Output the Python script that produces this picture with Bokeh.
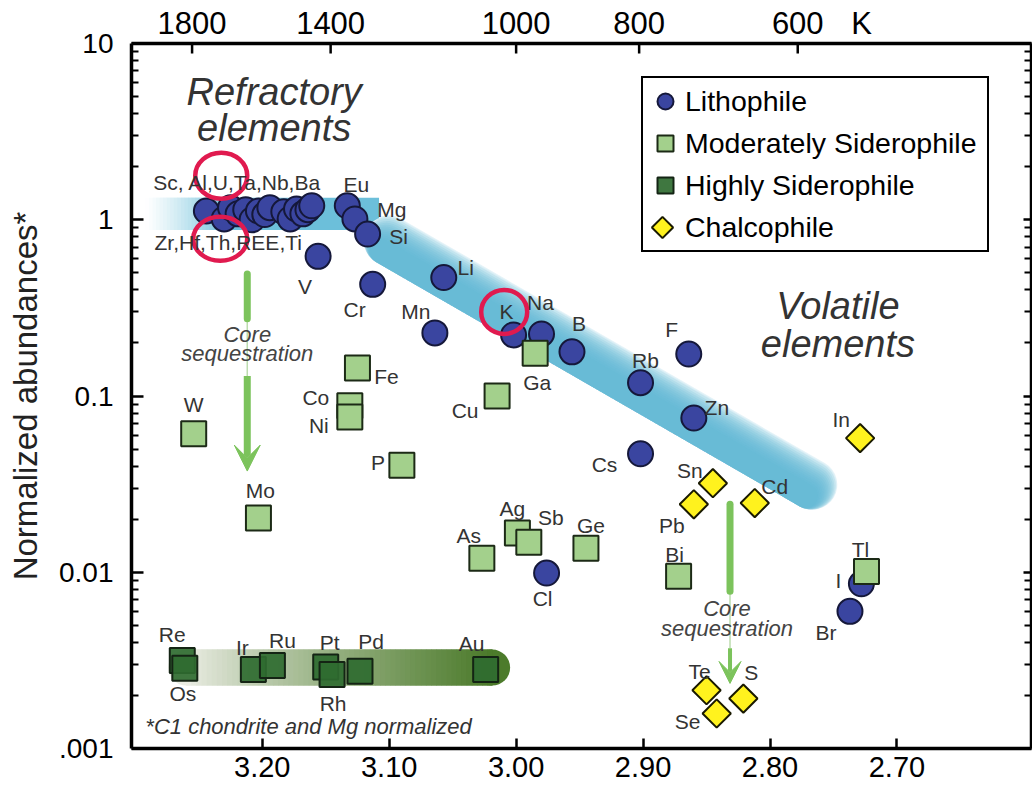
import numpy as np
from bokeh.plotting import figure
from bokeh.models import (Range1d, LinearAxis, LogAxis, FixedTicker, CustomJSTickFormatter,
                          Label, Legend, LegendItem, Arrow, VeeHead, ColumnDataSource)
from bokeh.core.properties import value
from bokeh.embed import file_html
from bokeh.resources import INLINE

FONT = "Liberation Sans"

# ---------------------------------------------------------------------------
# Data: x = log10 of 50% condensation temperature (K),
#       y = CI-chondrite and Mg normalized abundance
# ---------------------------------------------------------------------------
litho_names = ["Sc", "Al", "U", "Ta", "Nb", "Ba", "Zr", "Hf", "Th", "La", "Ce", "Nd", "Sm", "Ti", "Ca",
               "Eu", "Mg", "Si", "V", "Cr", "Li", "Mn", "K", "Na", "B", "Rb", "F", "Zn", "Cs",
               "Cl", "I", "Br"]
litho_x = [3.244, 3.230, 3.225, 3.219, 3.213, 3.208, 3.203, 3.198, 3.194, 3.183, 3.178, 3.173,
           3.168, 3.164, 3.161,
           3.133, 3.127, 3.117, 3.156, 3.113, 3.057, 3.064, 3.002, 2.980, 2.956, 2.902, 2.864,
           2.860, 2.902, 2.976, 2.728, 2.737]
litho_y = [1.12, 1.01, 1.17, 1.08, 1.14, 1.00, 1.12, 1.07, 1.17, 1.11, 1.01, 1.15, 1.08, 1.14,
           1.20,
           1.20, 1.01, 0.83, 0.62, 0.43, 0.47, 0.228, 0.222, 0.225, 0.178, 0.119, 0.173,
           0.075, 0.047, 0.0099, 0.0086, 0.0060]

modsid_names = ["Fe", "Co", "Ni", "W", "Mo", "P", "Cu", "Ga", "As", "Ag", "Sb", "Ge", "Bi", "Tl"]
modsid_x = [3.125, 3.131, 3.131, 3.254, 3.203, 3.090, 3.015, 2.985, 3.027, 2.999, 2.990, 2.945,
            2.872, 2.724]
modsid_y = [0.144, 0.088, 0.076, 0.061, 0.0203, 0.0405, 0.100, 0.175, 0.0120, 0.0167, 0.0148,
            0.0137, 0.0095, 0.0101]

highsid_names = ["Re", "Os", "Ir", "Ru", "Pt", "Rh", "Pd", "Au"]
highsid_x = [3.263, 3.261, 3.207, 3.192, 3.150, 3.145, 3.123, 3.024]
highsid_y = [0.00316, 0.00285, 0.00281, 0.00296, 0.00290, 0.00263, 0.00274, 0.00281]

chalco_names = ["In", "Sn", "Pb", "Cd", "Te", "S", "Se"]
chalco_x = [2.729, 2.845, 2.860, 2.812, 2.850, 2.821, 2.842]
chalco_y = [0.0577, 0.032, 0.0243, 0.0247, 0.00214, 0.00192, 0.00158]

# axis ticks
x_tick_values = [3.20, 3.10, 3.00, 2.90, 2.80, 2.70]
x_tick_labels = ["3.20", "3.10", "3.00", "2.90", "2.80", "2.70"]
y_tick_values = [0.001, 0.01, 0.1, 1, 10]
y_tick_labels = [".001", "0.01", "0.1", "1", "10"]
top_temps = [1800, 1400, 1000, 800, 600]
top_labels = ["1800", "1400", "1000", "800", "600"]
top_unit_label = "K"

# label placement (screen px offsets from the marker centre)
LABEL_OFFSETS = {
    "Eu": (9, -21), "Mg": (37, -9), "Si": (31, 2), "V": (-13, 30), "Cr": (-18, 25),
    "Li": (22, -10), "Mn": (-19, -21), "K": (-7, -23), "Na": (-1, -31), "B": (7, -28),
    "Rb": (5, -22), "F": (-17, -25), "Zn": (23, -11), "Cs": (-36, 11), "Cl": (-4, 25),
    "I": (-23, -3), "Br": (-24, 21),
    "Fe": (29, 8), "Co": (-34, -8), "Ni": (-31, 8), "W": (0, -29), "Mo": (2, -28),
    "P": (-24, -3), "Cu": (-32, 14), "Ga": (2, 29), "As": (-13, -23), "Ag": (-5, -24),
    "Sb": (22, -25), "Ge": (5, -23), "Bi": (-4, -22), "Tl": (-6, -22),
    "Re": (-10, -26), "Os": (-2, 25), "Ir": (-11, -22), "Ru": (10, -25), "Pt": (4, -25),
    "Rh": (1, 29), "Pd": (11, -30), "Au": (-14, -26),
    "In": (-19, -19), "Sn": (-23, -13), "Pb": (-22, 21), "Cd": (20, -17), "Te": (-7, -19),
    "S": (8, -26), "Se": (-29, 8),
}

# ---------------------------------------------------------------------------
# Figure geometry
# ---------------------------------------------------------------------------
X_START, X_END = 3.303, 2.594
Y_START, Y_END = 1e-3, 10.0
FRAME_LEFT, FRAME_TOP = 131, 43
FRAME_W, FRAME_H = 900, 705
PX_PER_X = FRAME_W / (X_START - X_END)
PX_PER_DEC = FRAME_H / np.log10(Y_END / Y_START)


def shift(x, y, dx, dy):
    """Move a data point by (dx, dy) screen pixels (dy positive downwards)."""
    return x - dx / PX_PER_X, y * 10 ** (-dy / PX_PER_DEC)


def from_screen(sx, sy):
    """Data coordinates of a canvas pixel position."""
    return X_START - (sx - FRAME_LEFT) / PX_PER_X, Y_END * 10 ** (-(sy - FRAME_TOP) / PX_PER_DEC)


def blend(c0, c1, t):
    a = np.array([int(c0[i:i + 2], 16) for i in (1, 3, 5)], float)
    b = np.array([int(c1[i:i + 2], 16) for i in (1, 3, 5)], float)
    c = a + (b - a) * t
    return "#%02x%02x%02x" % tuple(int(round(v)) for v in c)


p = figure(width=1032, height=790, x_range=Range1d(X_START, X_END),
           y_range=Range1d(Y_START, Y_END), y_axis_type="log",
           output_backend="svg", toolbar_location=None,
           min_border_left=FRAME_LEFT, min_border_right=1, min_border_top=FRAME_TOP,
           min_border_bottom=42)
p.xgrid.visible = False
p.ygrid.visible = False
p.outline_line_color = None
p.background_fill_color = "white"
p.border_fill_color = "white"

# ---------------------------------------------------------------------------
# Trend bands
# ---------------------------------------------------------------------------
BAND_BLUE = "#6cbfda"
# refractory plateau (fades in from the left)
hb_left, hb_right = 3.292, 3.108
hb_top, hb_bottom = 1.334, 0.874
n_fade = 24
fade_edges = np.linspace(hb_left, 3.225, n_fade + 1)
fade_cols = [blend("#ffffff", BAND_BLUE, ((i + 0.5) / n_fade) ** 1.2) for i in range(n_fade)]
p.quad(left=fade_edges[:-1], right=fade_edges[1:] - 0.0003, top=hb_top, bottom=hb_bottom,
       color=fade_cols, line_color=None)
p.quad(left=fade_edges[:-1], right=fade_edges[1:], top=hb_top, bottom=hb_bottom,
       color=fade_cols, line_color=None)
p.quad(left=[3.2255], right=[hb_right], top=[hb_top], bottom=[hb_bottom],
       color=BAND_BLUE, line_color=None)

# volatile depletion trend (diagonal band, fading on its upper side)
A = (3.1008, 0.760)
B = (2.7669, 0.0312)
adx = (A[0] - B[0]) * PX_PER_X
ady = np.log10(A[1] / B[1]) * PX_PER_DEC
alen = np.hypot(adx, ady)
perp = (-ady / alen, adx / alen)   # towards the lower-left side of the band
p.line([A[0], B[0]], [A[1], B[1]], line_width=49, line_color="#f2f9fc", line_cap="round")
for w in np.linspace(50, 24, 14):
    off = 24.5 - w / 2.0
    ax, ay = shift(A[0], A[1], perp[0] * off, perp[1] * off)
    bx, by = shift(B[0], B[1], perp[0] * off, perp[1] * off)
    p.line([ax, bx], [ay, by], line_width=w, line_color="#5db7d5", line_alpha=0.17,
           line_cap="round")

# highly siderophile band (grey-to-olive gradient)
gb_y = 0.00288
gb_x0, gb_x1 = 3.2598, 3.0189
n_g = 60
g_edges = np.linspace(gb_x0, gb_x1, n_g + 1)
g_cols = [blend("#eceee6", "#4b7a2a", ((i + 0.5) / n_g) ** 0.85) for i in range(n_g)]
p.scatter([gb_x0, gb_x1], [gb_y, gb_y], size=36, marker="circle",
          color=[g_cols[0], g_cols[-1]], line_color=None)
p.segment(x0=g_edges[:-1], y0=gb_y, x1=g_edges[1:] - 0.0004, y1=gb_y,
          line_width=36, line_color=g_cols, line_cap="butt")
p.segment(x0=g_edges[:-1], y0=gb_y, x1=g_edges[1:], y1=gb_y,
          line_width=36, line_color=g_cols, line_cap="butt")

# ---------------------------------------------------------------------------
# Core sequestration arrows
# ---------------------------------------------------------------------------
ARROW_GREEN = "#7cc35c"
THIN_GREEN = "#bcdcae"
lx = 3.2118
p.segment(x0=[lx], y0=[0.274], x1=[lx], y1=[0.130], line_width=1.5, line_color=THIN_GREEN)
p.segment(x0=[lx], y0=[0.493], x1=[lx], y1=[0.274], line_width=7, line_color=ARROW_GREEN,
          line_cap="round")
p.add_layout(Arrow(end=VeeHead(size=26, fill_color=ARROW_GREEN, line_color=ARROW_GREEN),
                   x_start=lx, y_start=0.130, x_end=lx, y_end=0.0375,
                   line_width=7, line_color=ARROW_GREEN))

rx = 2.8315
p.segment(x0=[rx], y0=[0.0078], x1=[rx], y1=[0.0037], line_width=1.5, line_color=THIN_GREEN)
p.segment(x0=[rx], y0=[0.0243], x1=[rx], y1=[0.0078], line_width=7, line_color=ARROW_GREEN,
          line_cap="round")
p.add_layout(Arrow(end=VeeHead(size=22, fill_color=ARROW_GREEN, line_color=ARROW_GREEN),
                   x_start=rx, y_start=0.0037, x_end=rx, y_end=0.00234,
                   line_width=4, line_color=ARROW_GREEN))

# ---------------------------------------------------------------------------
# Element markers
# ---------------------------------------------------------------------------
LITHO_STYLE = dict(marker="circle", size=25, fill_color="#3a45a0", line_color="#15183a", line_width=2)
MOD_STYLE = dict(marker="square", size=25, fill_color="#a3d08c", line_color="#1c2a16", line_width=2)
HIGH_STYLE = dict(marker="square", size=25, fill_color="#2f6b30", line_color="#142414", line_width=2)
CHAL_STYLE = dict(marker="square", angle=np.pi / 4, size=20, fill_color="#fff21e",
                  line_color="#1a1a00", line_width=2)

r_litho = p.scatter(litho_x, litho_y, **LITHO_STYLE)
r_mod = p.scatter(modsid_x, modsid_y, **MOD_STYLE)
r_high = p.scatter(highsid_x, highsid_y, fill_alpha=0.92, **HIGH_STYLE)
r_chal = p.scatter(chalco_x, chalco_y, **CHAL_STYLE)

# element labels
lab_names, lab_x, lab_y, lab_xo, lab_yo = [], [], [], [], []
for names, xs, ys in ((litho_names, litho_x, litho_y), (modsid_names, modsid_x, modsid_y),
                      (highsid_names, highsid_x, highsid_y), (chalco_names, chalco_x, chalco_y)):
    for n, xv, yv in zip(names, xs, ys):
        if n in LABEL_OFFSETS:
            lab_names.append(n)
            lab_x.append(xv)
            lab_y.append(yv)
            lab_xo.append(LABEL_OFFSETS[n][0])
            lab_yo.append(LABEL_OFFSETS[n][1])
lab_src = ColumnDataSource(dict(x=lab_x, y=lab_y, text=lab_names, xo=lab_xo, yo=lab_yo))
p.text(x="x", y="y", text="text", x_offset="xo", y_offset="yo", source=lab_src,
       text_font=value(FONT), text_font_size="21px", text_color="#333333",
       text_align="center", text_baseline="middle")

# group labels for the refractory plateau
for txt, xv, yv in (("Sc, Al,U,Ta,Nb,Ba", 3.2197, 1.62), ("Zr,Hf,Th,REE,Ti", 3.2268, 0.740)):
    p.add_layout(Label(x=xv, y=yv, text=txt, text_font=FONT, text_font_size="21px",
                       text_color="#333333", text_align="center", text_baseline="middle"))

# ---------------------------------------------------------------------------
# Annotation texts
# ---------------------------------------------------------------------------
def note(txt, xv, yv, size, color="#333333", align="center", style="italic"):
    p.add_layout(Label(x=xv, y=yv, text=txt, text_font=FONT, text_font_size=size,
                       text_font_style=style, text_color=color, text_align=align,
                       text_baseline="middle"))


note("Refractory", 3.1906, 5.30, "38px")
note("elements", 3.1906, 3.30, "38px")
note("Volatile", 2.7465, 0.325, "38px")
note("elements", 2.7465, 0.198, "38px")
note("Core", lx, 0.222, "22px", "#444444")
note("sequestration", lx, 0.1734, "22px", "#444444")
note("Core", 2.8339, 0.00625, "22px", "#444444")
note("sequestration", 2.8339, 0.00481, "22px", "#444444")
note("*C1 chondrite and Mg normalized", 3.2921, 0.00134, "22px", "#333333", align="left")

# red highlight rings
p.ellipse(x=[3.2323, 3.2331, 3.0094], y=[1.778, 0.780, 0.300],
          width=[52, 54, 46], height=[46, 44, 44], width_units="screen", height_units="screen",
          fill_color=None, line_color="#e01a4f", line_width=4.5)

# ---------------------------------------------------------------------------
# Axes
# ---------------------------------------------------------------------------
lookup_code = """
const i = vals.findIndex(v => Math.abs(v - tick) <= 1e-6 * Math.abs(v));
return i >= 0 ? labs[i] : "";
"""
y_minor = [k * 10.0 ** e for e in range(-3, 1) for k in range(2, 10)]


def style_axis(ax, tick_in=12, font_size="28px"):
    ax.axis_line_width = 3.5
    ax.axis_line_color = "black"
    ax.major_tick_line_width = 2.5
    ax.minor_tick_line_width = 2
    ax.major_tick_in = tick_in
    ax.major_tick_out = 0
    ax.minor_tick_in = 7
    ax.minor_tick_out = 0
    ax.major_label_text_font = FONT
    ax.major_label_text_font_size = font_size
    ax.major_label_text_color = "black"


yax = p.yaxis[0]
yax.ticker = FixedTicker(ticks=y_tick_values, minor_ticks=y_minor)
yax.formatter = CustomJSTickFormatter(args=dict(vals=y_tick_values, labs=y_tick_labels),
                                      code=lookup_code)
style_axis(yax)
yax.major_label_standoff = 18
yax.axis_label = "Normalized abundances*"
yax.axis_label_text_font = FONT
yax.axis_label_text_font_size = "33px"
yax.axis_label_text_font_style = "normal"
yax.axis_label_text_color = "#222222"
yax.axis_label_standoff = 12

xax = p.xaxis[0]
xax.ticker = FixedTicker(ticks=x_tick_values)
xax.formatter = CustomJSTickFormatter(args=dict(vals=x_tick_values, labs=x_tick_labels),
                                      code=lookup_code)
style_axis(xax, tick_in=10, font_size="29px")
xax.major_label_standoff = 8

# temperature scale on top; the unit "K" sits in the label row after 600
top_vals = [float(np.log10(t)) for t in top_temps]
unit_x = from_screen(861, 0)[0]
tax = LinearAxis(ticker=FixedTicker(ticks=top_vals + [unit_x]),
                 formatter=CustomJSTickFormatter(
                     args=dict(vals=top_vals + [unit_x], labs=top_labels + [top_unit_label]),
                     code=lookup_code))
style_axis(tax, tick_in=0, font_size="31px")
tax.major_label_standoff = 3
p.add_layout(tax, "above")
tick_len = 10 ** (-10 / PX_PER_DEC)
p.segment(x0=top_vals, y0=Y_END, x1=top_vals, y1=Y_END * tick_len,
          line_width=2.5, line_color="black")

rax = LogAxis(ticker=FixedTicker(ticks=y_tick_values, minor_ticks=y_minor),
              formatter=CustomJSTickFormatter(code="return '';"))
style_axis(rax, tick_in=8)
rax.major_label_standoff = 0
p.add_layout(rax, "right")

# ---------------------------------------------------------------------------
# Legend
# ---------------------------------------------------------------------------
# the chalcophile entry keeps its row; its rotated-square symbol is drawn
# as a glyph underneath the (transparent) legend box
r_chal_key = p.scatter([], [], marker="square", size=20, fill_alpha=0, line_alpha=0)
legend = Legend(items=[LegendItem(label="Lithophile", renderers=[r_litho]),
                       LegendItem(label="Moderately Siderophile", renderers=[r_mod]),
                       LegendItem(label="Highly Siderophile", renderers=[r_high]),
                       LegendItem(label="Chalcophile", renderers=[r_chal_key])],
                location=(510, 496), orientation="vertical",
                label_text_font=FONT, label_text_font_size="28.5px", label_text_color="black",
                glyph_width=40, glyph_height=42, label_height=42, label_width=300,
                label_standoff=0, spacing=0, padding=2, margin=0,
                border_line_color="black", border_line_width=2, border_line_alpha=1,
                background_fill_alpha=0)
p.add_layout(legend)
key_x, key_y = from_screen(662, 227)
key_style = dict(CHAL_STYLE)
key_style["size"] = 15
p.scatter([key_x], [key_y], **key_style)

open("out.html", "w").write(file_html(p, INLINE))
